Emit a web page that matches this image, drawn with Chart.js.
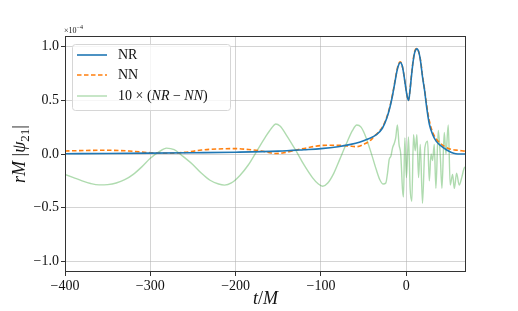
<!DOCTYPE html>
<html>
<head>
<meta charset="utf-8">
<script src="https://cdn.jsdelivr.net/npm/chart.js@4.4.1/dist/chart.umd.min.js"></script>
<style>
  html, body { margin: 0; padding: 0; background: #fff; }
  #wrap { width: 518px; height: 311px; }
</style>
</head>
<body>
<div id="wrap"><canvas id="chart"></canvas></div>
<script>
// time axis (t/M) and amplitudes (units of 1e-4)
const tNR = [-400, -350, -300, -250, -200, -150, -120, -100, -80, -65, -55, -45, -35, -28, -23, -19, -16, -13.5, -11, -9, -7, -5, -3, -1, 1, 2.7, 4.5, 6, 8, 10, 12.5, 15, 17, 19, 21.5, 24, 27, 31, 35, 40, 47, 53, 58, 63, 70];
const NR = [0.003, 0.005, 0.008, 0.012, 0.017, 0.027, 0.04, 0.05, 0.068, 0.09, 0.11, 0.14, 0.18, 0.24, 0.33, 0.44, 0.55, 0.66, 0.77, 0.83, 0.853, 0.83, 0.75, 0.64, 0.54, 0.5, 0.6, 0.72, 0.86, 0.95, 0.98, 0.94, 0.85, 0.72, 0.59, 0.43, 0.28, 0.18, 0.12, 0.08, 0.04, 0.015, 0.003, 0, 0];

const tNN = [-400, -375, -350, -325, -300, -280, -260, -240, -220, -200, -185, -170, -160, -153, -145, -130, -115, -98, -80, -68, -58, -50, -43, -38, -33, -28, -23, -19, -16, -13.5, -11, -9, -7, -5, -3, -1, 1, 2.7, 4.5, 6, 8, 10, 12.5, 15, 17, 19, 21.5, 24, 27, 31, 35, 40, 45, 50, 55, 60, 65, 70];
const NN = [0.028, 0.033, 0.035, 0.028, 0.012, 0.007, 0.015, 0.037, 0.047, 0.05, 0.042, 0.028, 0.012, 0.004, 0.01, 0.035, 0.06, 0.08, 0.082, 0.075, 0.068, 0.09, 0.12, 0.16, 0.2, 0.25, 0.34, 0.45, 0.56, 0.67, 0.78, 0.84, 0.86, 0.83, 0.75, 0.64, 0.54, 0.5, 0.61, 0.73, 0.87, 0.96, 0.985, 0.94, 0.86, 0.73, 0.6, 0.45, 0.31, 0.2, 0.14, 0.1, 0.07, 0.05, 0.04, 0.035, 0.03, 0.025];

const tDiff = [-400, -390, -380, -370, -360, -350, -340, -330, -320, -310, -300, -290, -281, -272, -262, -250, -240, -230, -220, -213, -205, -195, -185, -175, -165, -158, -153, -148, -140, -130, -120, -110, -103, -98, -92, -85, -78, -70, -63, -58, -53, -47, -40, -35, -31, -27, -24, -22, -20, -18, -16, -14, -12.4, -10.4, -8.5, -6.5, -4.5, -3.3, -1.7, 0.2, 2.6, 4.5, 6.5, 8.5, 10.5, 12.4, 14.4, 16.4, 19, 21.8, 25, 27, 29, 30.8, 32.8, 34.7, 37.5, 39.8, 41.8, 44.5, 46.5, 49.2, 51.5, 54.3, 56.3, 59, 62, 65, 68, 70];
const diff = [-0.19, -0.22, -0.25, -0.275, -0.288, -0.285, -0.27, -0.24, -0.19, -0.12, -0.04, 0.02, 0.055, 0.04, -0.02, -0.1, -0.18, -0.245, -0.28, -0.29, -0.27, -0.2, -0.1, 0.03, 0.16, 0.24, 0.28, 0.26, 0.17, 0.04, -0.1, -0.22, -0.28, -0.3, -0.27, -0.18, -0.05, 0.1, 0.22, 0.27, 0.25, 0.15, -0.02, -0.15, -0.24, -0.28, -0.27, -0.18, -0.05, -0.02, 0.06, 0.1, 0.15, 0.27, 0.09, 0.0, -0.32, -0.4, 0.15, -0.22, 0.16, -0.32, -0.44, 0.18, 0.03, 0.18, -0.22, 0.09, -0.46, 0.06, 0.12, -0.25, 0.0, -0.06, 0.09, -0.32, 0.22, -0.01, -0.32, 0.2, 0.0, 0.27, -0.29, -0.19, -0.32, -0.18, -0.29, -0.22, -0.13, -0.12];

const xTicks = [-400, -300, -200, -100, 0];
const yTicks = [-1.0, -0.5, 0.0, 0.5, 1.0];

const SERIF = "'Liberation Serif', 'DejaVu Serif', serif";
const minus = s => s.replace('-', '\u2212');
const pts = (ts, vs) => ts.map((t, i) => ({ x: t, y: vs[i] }));

// draws pieces of text: [text, italic, sizeScale, dy]
const drawRuns = (ctx, runs, x, y, size, align) => {
    const fontOf = r => `${r[1] ? 'italic ' : ''}${Math.round(size * (r[2] || 1))}px ${SERIF}`;
    let total = 0;
    runs.forEach(r => { ctx.font = fontOf(r); total += ctx.measureText(r[0]).width; });
    let cx = align === 'center' ? x - total / 2 : x;
    ctx.textAlign = 'left';
    runs.forEach(r => {
        ctx.font = fontOf(r);
        ctx.fillText(r[0], cx, y + (r[3] || 0));
        cx += ctx.measureText(r[0]).width;
    });
};

const decorations = {
    id: 'decorations',
    afterDatasetsDraw(chart) {
        const { ctx, chartArea: a } = chart;
        ctx.save();
        // frame
        ctx.strokeStyle = '#333';
        ctx.lineWidth = 1;
        ctx.strokeRect(Math.round(a.left) + 0.5, Math.round(a.top) + 0.5, Math.round(a.right - a.left) - 1, Math.round(a.bottom - a.top) - 1);

        // legend
        const lx = 72, ly = 44, lw = 158, lh = 66;
        ctx.fillStyle = 'rgba(255,255,255,0.8)';
        ctx.strokeStyle = '#d6d6d6';
        ctx.beginPath();
        ctx.roundRect(lx + 0.5, ly + 0.5, lw, lh, 3);
        ctx.fill();
        ctx.stroke();
        const rows = [55, 75, 96];
        const labels = [
            [['NR', false]],
            [['NN', false]],
            [['10 \u00d7 (', false], ['NR', true], [' \u2212 ', false], ['NN', true], [')', false]]
        ];
        chart.data.datasets.forEach((ds, i) => {
            ctx.strokeStyle = ds.borderColor;
            ctx.lineWidth = ds.borderWidth;
            ctx.setLineDash(ds.borderDash || []);
            ctx.beginPath();
            ctx.moveTo(77, rows[i]);
            ctx.lineTo(107, rows[i]);
            ctx.stroke();
            ctx.setLineDash([]);
            ctx.fillStyle = '#111';
            ctx.textBaseline = 'middle';
            drawRuns(ctx, labels[i], 118, rows[i], 14, 'left');
        });

        // axis titles
        ctx.fillStyle = '#111';
        ctx.textBaseline = 'alphabetic';
        drawRuns(ctx, [['t', true], ['/', false], ['M', true]], (a.left + a.right) / 2, 304, 18, 'center');
        ctx.save();
        ctx.translate(25, (a.top + a.bottom) / 2);
        ctx.rotate(-Math.PI / 2);
        drawRuns(ctx, [['rM', true], [' |', false], ['\u03c8', true], ['21', false, 0.7, 4], ['|', false]], 0, 0, 18, 'center');
        ctx.restore();

        // offset text
        drawRuns(ctx, [['\u00d710', false], ['\u22124', false, 0.75, -4]], 64, 33, 8, 'left');
        ctx.restore();
    }
};

new Chart(document.getElementById('chart'), {
    type: 'line',
    data: {
        datasets: [
            {
                label: 'NR',
                data: pts(tNR, NR),
                borderColor: '#1f77b4',
                borderWidth: 1.6,
                cubicInterpolationMode: 'monotone',
                pointRadius: 0
            },
            {
                label: 'NN',
                data: pts(tNN, NN),
                borderColor: '#ff7f0e',
                borderWidth: 1.6,
                borderDash: [4.5, 2.5],
                cubicInterpolationMode: 'monotone',
                pointRadius: 0
            },
            {
                label: '10 \u00d7 (NR \u2212 NN)',
                data: pts(tDiff, diff),
                borderColor: 'rgba(44,160,44,0.38)',
                borderWidth: 1.4,
                cubicInterpolationMode: 'monotone',
                pointRadius: 0
            }
        ]
    },
    options: {
        responsive: true,
        maintainAspectRatio: false,
        animation: false,
        layout: { padding: { left: 0, right: 52, top: 36, bottom: 0 } },
        plugins: { legend: { display: false }, tooltip: { enabled: false } },
        scales: {
            x: {
                type: 'linear',
                min: -400,
                max: 70,
                afterBuildTicks: s => { s.ticks = xTicks.map(v => ({ value: v })); },
                afterFit: s => { s.height = 39; },
                grid: { color: 'rgba(176,176,176,0.55)', tickColor: '#333', tickLength: 4 },
                border: { display: false },
                ticks: {
                    color: '#111',
                    font: { family: SERIF, size: 14 },
                    padding: 2,
                    maxRotation: 0,
                    callback: v => minus(String(v))
                }
            },
            y: {
                min: -1.1,
                max: 1.1,
                afterBuildTicks: s => { s.ticks = yTicks.map(v => ({ value: v })); },
                afterFit: s => { s.width = 65; },
                grid: { color: 'rgba(176,176,176,0.55)', tickColor: '#333', tickLength: 4 },
                border: { display: false },
                ticks: {
                    color: '#111',
                    font: { family: SERIF, size: 14 },
                    padding: 2,
                    callback: v => minus(v.toFixed(1))
                }
            }
        }
    },
    plugins: [decorations]
});
</script>
</body>
</html>
